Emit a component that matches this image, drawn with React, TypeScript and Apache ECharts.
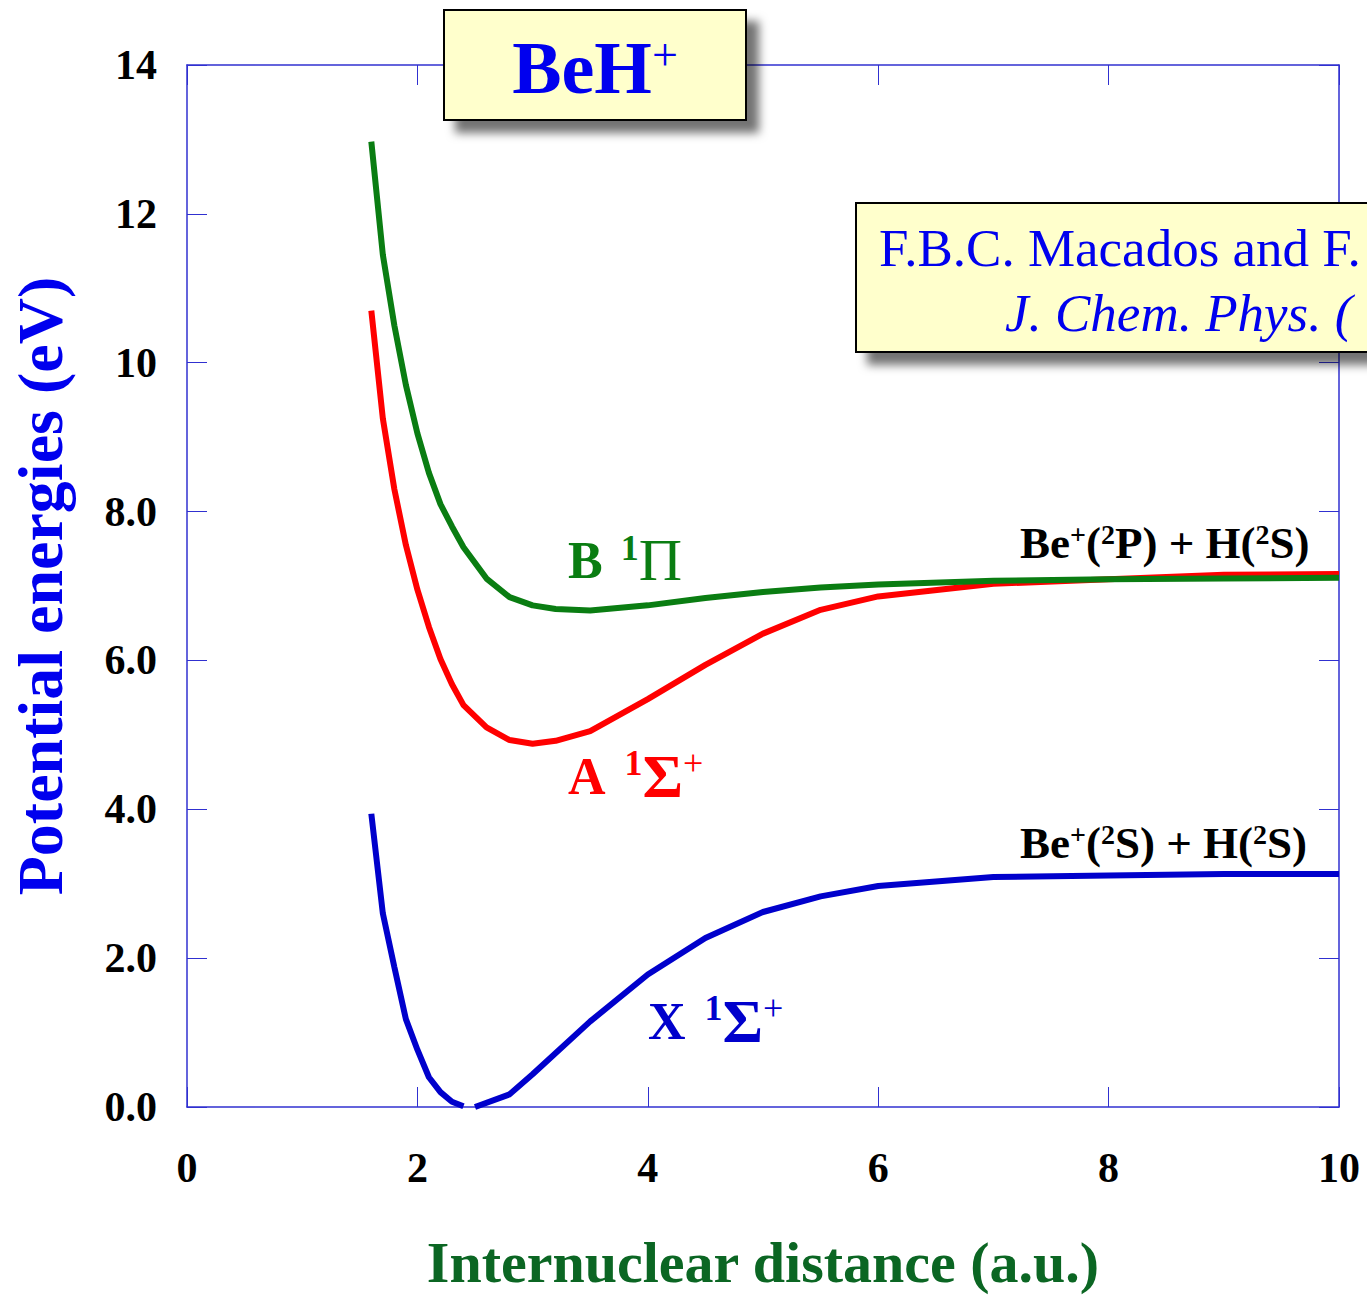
import React, { useEffect, useRef } from "react";
import * as echarts from "echarts";

const xTickLabels = ["0", "2", "4", "6", "8", "10"];
const yTickLabels = ["0.0", "2.0", "4.0", "6.0", "8.0", "10", "12", "14"];

const xX = [1.6, 1.7, 1.8, 1.9, 2.0, 2.1, 2.2, 2.3, 2.4, 2.45, 2.5, 2.8, 3.0, 3.5, 4.0, 4.5, 5.0, 5.5, 6.0, 7.0, 8.0, 9.0, 10.0];
const yX = [3.94, 2.6, 1.88, 1.18, 0.77, 0.4, 0.2, 0.07, 0.01, null, 0.0, 0.17, 0.44, 1.15, 1.78, 2.27, 2.62, 2.83, 2.97, 3.09, 3.11, 3.13, 3.13];

const xA = [1.6, 1.7, 1.8, 1.9, 2.0, 2.1, 2.2, 2.3, 2.4, 2.6, 2.8, 3.0, 3.2, 3.5, 4.0, 4.5, 5.0, 5.5, 6.0, 7.0, 8.0, 9.0, 10.0];
const yA = [10.7, 9.25, 8.3, 7.55, 6.95, 6.45, 6.02, 5.68, 5.4, 5.1, 4.93, 4.88, 4.92, 5.05, 5.48, 5.94, 6.36, 6.68, 6.86, 7.03, 7.09, 7.15, 7.16];

const xB = [1.6, 1.7, 1.8, 1.9, 2.0, 2.1, 2.2, 2.3, 2.4, 2.6, 2.8, 3.0, 3.2, 3.5, 4.0, 4.5, 5.0, 5.5, 6.0, 7.0, 8.0, 9.0, 10.0];
const yB = [12.97, 11.45, 10.5, 9.7, 9.05, 8.52, 8.1, 7.8, 7.52, 7.1, 6.85, 6.74, 6.69, 6.67, 6.74, 6.84, 6.92, 6.98, 7.02, 7.07, 7.09, 7.1, 7.11];

const SERIF = "'Liberation Serif', 'Times New Roman', Times, serif";
const AXIS_BLUE = "#3030d0";
const BLUE_TXT = "#0000ee";
const GREEN = "#0a7d12";
const RED = "#ff0000";
const BLUE = "#0000cc";

const pairs = (xs: number[], ys: (number | null)[]) => xs.map((x, i) => [x, ys[i]]);

export default function App() {
  const ref = useRef<HTMLDivElement>(null);
  useEffect(() => {
    if (!ref.current) return;
    const chart = echarts.init(ref.current, undefined, { renderer: "svg", width: 1367, height: 1296 });
    const yFmt = (v: number) => yTickLabels[Math.round(v / 2)] ?? "";
    const xFmt = (v: number) => xTickLabels[Math.round(v / 2)] ?? "";
    const tickStyle = { show: true, inside: true, length: 20, lineStyle: { color: AXIS_BLUE, width: 1 } };
    const lineStyle = { show: true, onZero: false, lineStyle: { color: AXIS_BLUE, width: 1.5 } };
    const boldLabel = { fontFamily: SERIF, fontWeight: "bold" as const, fontSize: 42, color: "#000" };
    const sup = (size: number, color: string, bold = true, padLeft = 0) => ({
      fontFamily: SERIF, fontSize: size, fontWeight: bold ? ("bold" as const) : ("normal" as const), fill: color,
      verticalAlign: "top" as const, padding: [0, 0, 0, padLeft],
    });
    const main = (size: number, color: string, bold = true) => ({
      fontFamily: SERIF, fontSize: size, fontWeight: bold ? ("bold" as const) : ("normal" as const), fill: color,
    });
    chart.setOption({
      animation: false,
      backgroundColor: "#fff",
      grid: { left: 187, top: 65, width: 1152, height: 1048, containLabel: false },
      xAxis: [
        {
          type: "value", min: 0, max: 10, interval: 2, position: "bottom",
          axisLine: lineStyle, axisTick: tickStyle, splitLine: { show: false },
          axisLabel: { ...boldLabel, margin: 40, formatter: xFmt },
          name: "Internuclear distance (a.u.)", nameLocation: "middle", nameGap: 126,
          nameTextStyle: { fontFamily: SERIF, fontWeight: "bold", fontSize: 58, color: "#0b6623" },
        },
        {
          type: "value", min: 0, max: 10, interval: 2, position: "top",
          axisLine: lineStyle, axisTick: tickStyle, splitLine: { show: false }, axisLabel: { show: false },
        },
      ],
      yAxis: [
        {
          type: "value", min: 0, max: 14, interval: 2, position: "left",
          axisLine: lineStyle, axisTick: tickStyle, splitLine: { show: false },
          axisLabel: { ...boldLabel, margin: 30, formatter: yFmt },
          name: "Potential energies (eV)", nameLocation: "middle", nameGap: 115,
          nameTextStyle: { fontFamily: SERIF, fontWeight: "bold", fontSize: 64, color: BLUE_TXT },
        },
        {
          type: "value", min: 0, max: 14, interval: 2, position: "right",
          axisLine: lineStyle, axisTick: tickStyle, splitLine: { show: false }, axisLabel: { show: false },
        },
      ],
      series: [
        { type: "line", data: pairs(xX, yX), showSymbol: false, connectNulls: false, lineStyle: { color: BLUE, width: 6 }, itemStyle: { color: BLUE } },
        { type: "line", data: pairs(xA, yA), showSymbol: false, lineStyle: { color: RED, width: 6 }, itemStyle: { color: RED } },
        { type: "line", data: pairs(xB, yB), showSymbol: false, lineStyle: { color: GREEN, width: 6 }, itemStyle: { color: GREEN } },
      ],
      graphic: [
        {
          type: "rect", z: 100, shape: { x: 444, y: 10, width: 302, height: 110 },
          style: { fill: "#ffffcc", stroke: "#000", lineWidth: 2, shadowBlur: 10, shadowOffsetX: 12, shadowOffsetY: 12, shadowColor: "rgba(0,0,0,0.55)" },
        },
        {
          type: "text", z: 101, x: 595, y: 68,
          style: {
            text: "{a|BeH}{b|+}", textAlign: "center", textVerticalAlign: "middle",
            rich: { a: main(74, BLUE_TXT), b: sup(46, BLUE_TXT, false) },
          },
        },
        {
          type: "rect", z: 100, shape: { x: 856, y: 203, width: 620, height: 149 },
          style: { fill: "#ffffcc", stroke: "#000", lineWidth: 2, shadowBlur: 10, shadowOffsetX: 12, shadowOffsetY: 12, shadowColor: "rgba(0,0,0,0.55)" },
        },
        {
          type: "text", z: 101, x: 879, y: 248,
          style: { text: "F.B.C. Macados and F.", font: `53px ${SERIF}`, fill: BLUE_TXT, textAlign: "left", textVerticalAlign: "middle" },
        },
        {
          type: "text", z: 101, x: 1005, y: 313,
          style: { text: "J. Chem. Phys. (", font: `italic 53px ${SERIF}`, fill: BLUE_TXT, textAlign: "left", textVerticalAlign: "middle" },
        },
        {
          type: "text", z: 50, x: 568, y: 560,
          style: {
            text: "{m|B }{s|1}{g|Π}", textAlign: "left", textVerticalAlign: "middle",
            rich: { m: main(52, GREEN), s: sup(36, GREEN, true, 5), g: main(60, GREEN, false) },
          },
        },
        {
          type: "text", z: 50, x: 568, y: 776,
          style: {
            text: "{m|A }{s|1}{g|Σ}{p|+}", textAlign: "left", textVerticalAlign: "middle",
            rich: { m: main(52, RED), s: sup(36, RED, true, 6), g: main(62, RED), p: sup(36, RED, false) },
          },
        },
        {
          type: "text", z: 50, x: 648, y: 1021,
          style: {
            text: "{m|X }{s|1}{g|Σ}{p|+}", textAlign: "left", textVerticalAlign: "middle",
            rich: { m: main(52, BLUE), s: sup(36, BLUE, true, 6), g: main(62, BLUE), p: sup(36, BLUE, false) },
          },
        },
        {
          type: "text", z: 50, x: 1020, y: 543,
          style: {
            text: "{m|Be}{s|+}{m|(}{s|2}{m|P) + H(}{s|2}{m|S)}", textAlign: "left", textVerticalAlign: "middle",
            rich: { m: main(45, "#000"), s: sup(28, "#000") },
          },
        },
        {
          type: "text", z: 50, x: 1020, y: 843,
          style: {
            text: "{m|Be}{s|+}{m|(}{s|2}{m|S) + H(}{s|2}{m|S)}", textAlign: "left", textVerticalAlign: "middle",
            rich: { m: main(45, "#000"), s: sup(28, "#000") },
          },
        },
      ],
    });
    return () => chart.dispose();
  }, []);
  return <div ref={ref} style={{ width: 1367, height: 1296, position: "absolute", left: 0, top: 0 }} />;
}
